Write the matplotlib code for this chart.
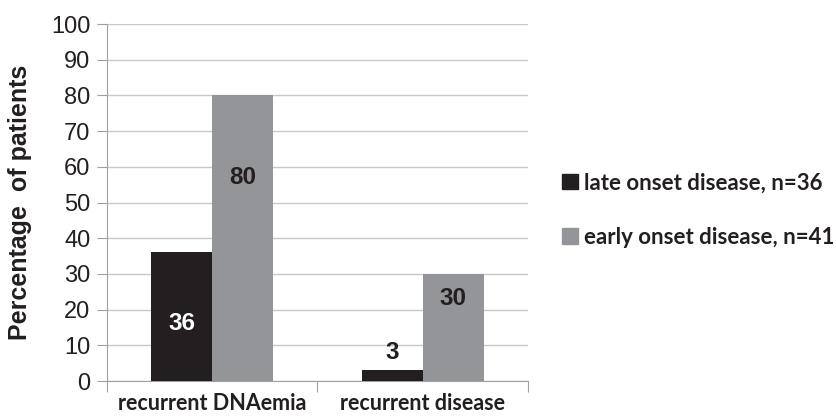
import numpy as np
import matplotlib.pyplot as plt
from matplotlib.patches import Patch

categories = ['recurrent DNAemia', 'recurrent disease']
late_onset = [36, 3]
early_onset = [80, 30]
series_names = ['late onset disease, n=36', 'early onset disease, n=41']

# where the value labels sit (data units), as in the original
late_label_y = [16, 8]
early_label_y = [57, 23]

black = '#231f20'
grey = '#939598'
axis_grey = '#a0a0a0'

fig = plt.figure(figsize=(8.37, 4.18), dpi=100)
ax = fig.add_axes([107 / 837, 1 - 381 / 418, 421 / 837, 357 / 418])

x = np.arange(len(categories))
w = 0.29
ax.bar(x - w / 2, late_onset, w, color=black, zorder=3)
ax.bar(x + w / 2, early_onset, w, color=grey, zorder=3)

for i in range(len(categories)):
    inside = late_label_y[i] < late_onset[i]
    ax.text(x[i] - w / 2, late_label_y[i], str(late_onset[i]), ha='center', va='center',
            fontsize=17.5, fontweight='bold', family='Liberation Sans',
            color='white' if inside else black, zorder=4)
    ax.text(x[i] + w / 2, early_label_y[i], str(early_onset[i]), ha='center', va='center',
            fontsize=17.5, fontweight='bold', family='Liberation Sans', color=black, zorder=4)

ax.set_xlim(-0.5, 1.5)
ax.set_ylim(0, 100)
ax.set_yticks(range(0, 101, 10))
ax.yaxis.grid(True, color='#c8c8c8', linewidth=1)
ax.set_axisbelow(True)

ax.set_xticks([-0.5, 0.5, 1.5])
ax.set_xticklabels([])
ax.set_xticks(x, minor=True)
ax.set_xticklabels(categories, minor=True, fontsize=15.5, fontweight='bold',
                   family='Lato', color='#231f20')
ax.tick_params(axis='x', which='minor', length=0, pad=9)
ax.tick_params(axis='x', which='major', length=8, color=axis_grey, direction='out')
ax.tick_params(axis='y', length=7, color=axis_grey, labelsize=17, labelcolor='#231f20', pad=5)
for lab in ax.get_yticklabels():
    lab.set_family('Liberation Sans')

for s in ['top', 'right']:
    ax.spines[s].set_visible(False)
for s in ['left', 'bottom']:
    ax.spines[s].set_color(axis_grey)

ax.set_ylabel('Percentage  of patients', fontsize=18, fontweight='bold',
              family='Liberation Sans', color='#231f20', labelpad=14)

handles = [Patch(color=black), Patch(color=grey)]
fig.legend(handles, series_names, loc='center left', bbox_to_anchor=(562 / 837, 1 - 210 / 418),
           frameon=False, borderpad=0, borderaxespad=0,
           handlelength=0.7, handleheight=0.7, handletextpad=0.3,
           labelspacing=1.5, prop={'family': 'Lato', 'weight': 'bold', 'size': 16},
           labelcolor='#231f20')

fig.savefig('out.png', dpi=100)
